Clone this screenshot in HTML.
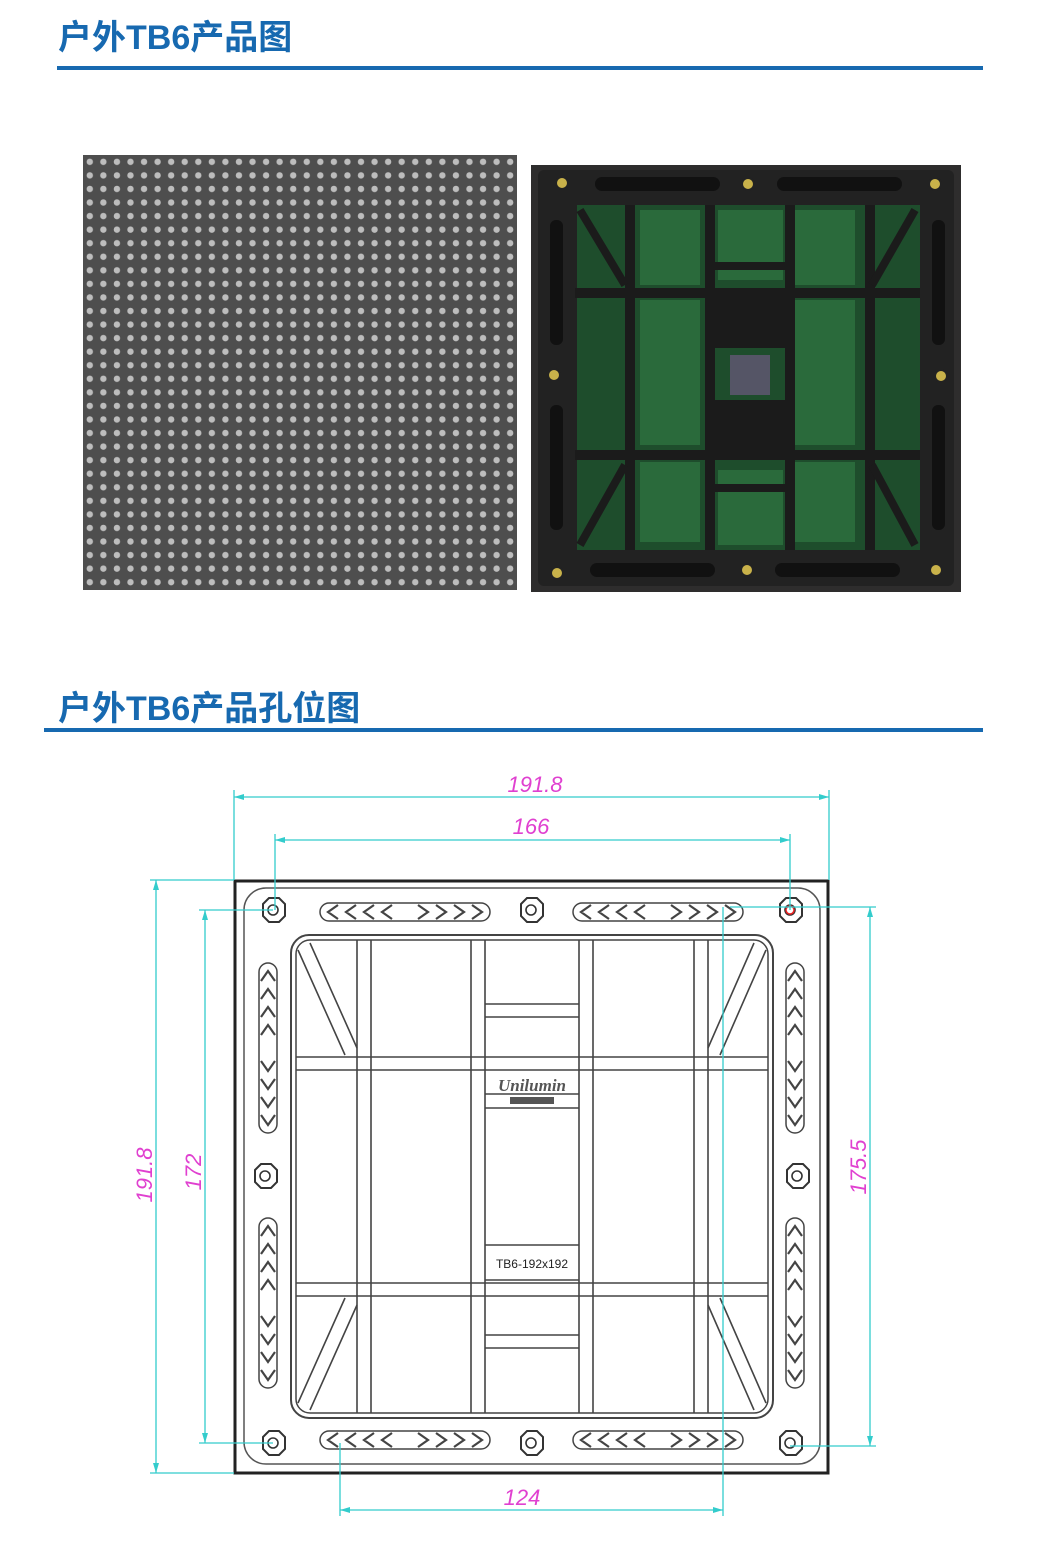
<!DOCTYPE html>
<html><head><meta charset="utf-8"><style>
html,body{margin:0;padding:0;background:#fff;width:1058px;height:1544px;overflow:hidden}
.t{position:absolute;left:58px;font-family:"Liberation Sans","Noto Sans CJK SC",sans-serif;font-weight:bold;color:#1769b0;font-size:34px;letter-spacing:0px}
</style></head><body>
<div class="t" style="top:10px">户外TB6产品图</div>
<div class="t" style="top:681px">户外TB6产品孔位图</div>
<svg width="1058" height="1544" style="position:absolute;left:0;top:0" xmlns="http://www.w3.org/2000/svg">
<defs>
<pattern id="led" x="83" y="155" width="13.56" height="13.56" patternUnits="userSpaceOnUse">
<rect width="13.56" height="13.56" fill="#4e4e4e"/>
<circle cx="6.8" cy="6.8" r="3.2" fill="#bdbdbd"/>
</pattern>
<g id="hole"><polygon points="-10,-6 -4,-12 6,-12 12,-6 12,6 6,12 -4,12 -10,6" fill="#fff" stroke="#333" stroke-width="2"/><circle r="5" fill="none" stroke="#333" stroke-width="1.6"/></g>
<g id="chevH" fill="none" stroke="#444" stroke-width="2.2">
<rect x="0" y="-9" width="170" height="18" rx="9" stroke-width="1.5"/>
<path d="M18,-7 l-10,7 l10,7 M36,-7 l-10,7 l10,7 M54,-7 l-10,7 l10,7 M72,-7 l-10,7 l10,7 M98,-7 l10,7 l-10,7 M116,-7 l10,7 l-10,7 M134,-7 l10,7 l-10,7 M152,-7 l10,7 l-10,7"/>
</g>
<g id="chevV" fill="none" stroke="#444" stroke-width="2.2">
<rect x="-9" y="0" width="18" height="170" rx="9" stroke-width="1.5"/>
<path d="M-7,18 l7,-10 l7,10 M-7,36 l7,-10 l7,10 M-7,54 l7,-10 l7,10 M-7,72 l7,-10 l7,10 M-7,98 l7,10 l7,-10 M-7,116 l7,10 l7,-10 M-7,134 l7,10 l7,-10 M-7,152 l7,10 l7,-10"/>
</g>
</defs>
<rect x="57" y="66" width="926" height="4" fill="#1769b0"/>
<rect x="44" y="728" width="939" height="4" fill="#1769b0"/>
<rect x="83" y="155" width="434" height="435" fill="url(#led)"/>
<rect x="531" y="165" width="430" height="427" fill="#2e2d2d"/>
<rect x="538" y="170" width="416" height="416" fill="#222" rx="6"/>
<rect x="577" y="205" width="343" height="345" fill="#1e4d2c"/>
<rect x="640" y="210" width="60" height="75" fill="#2a6a3b"/>
<rect x="795" y="210" width="60" height="75" fill="#2a6a3b"/>
<rect x="640" y="300" width="60" height="145" fill="#2a6a3b"/>
<rect x="795" y="300" width="60" height="145" fill="#2a6a3b"/>
<rect x="640" y="462" width="60" height="80" fill="#2a6a3b"/>
<rect x="795" y="462" width="60" height="80" fill="#2a6a3b"/>
<rect x="718" y="470" width="65" height="75" fill="#2a6a3b"/>
<rect x="718" y="210" width="65" height="70" fill="#2a6a3b"/>
<g fill="#1b1b1b">
<rect x="575" y="288" width="345" height="10"/><rect x="575" y="450" width="345" height="10"/>
<rect x="625" y="205" width="10" height="345"/><rect x="705" y="205" width="10" height="345"/><rect x="785" y="205" width="10" height="345"/><rect x="865" y="205" width="10" height="345"/>
<rect x="713" y="298" width="72" height="50"/><rect x="713" y="400" width="72" height="50"/>
<rect x="713" y="262" width="72" height="8"/><rect x="713" y="484" width="72" height="8"/>
</g>
<rect x="730" y="355" width="40" height="40" fill="#556"/>
<g stroke="#1b1b1b" stroke-width="8"><line x1="580" y1="210" x2="625" y2="285"/><line x1="915" y1="210" x2="872" y2="285"/><line x1="580" y1="545" x2="625" y2="465"/><line x1="915" y1="545" x2="872" y2="465"/></g>
<g fill="#c9b24a" stroke="#222" stroke-width="2"><circle cx="562" cy="183" r="6"/><circle cx="748" cy="184" r="6"/><circle cx="935" cy="184" r="6"/><circle cx="554" cy="375" r="6"/><circle cx="941" cy="376" r="6"/><circle cx="557" cy="573" r="6"/><circle cx="747" cy="570" r="6"/><circle cx="936" cy="570" r="6"/></g>
<g fill="#111"><rect x="595" y="177" width="125" height="14" rx="7"/><rect x="777" y="177" width="125" height="14" rx="7"/><rect x="590" y="563" width="125" height="14" rx="7"/><rect x="775" y="563" width="125" height="14" rx="7"/><rect x="550" y="220" width="13" height="125" rx="6"/><rect x="550" y="405" width="13" height="125" rx="6"/><rect x="932" y="220" width="13" height="125" rx="6"/><rect x="932" y="405" width="13" height="125" rx="6"/></g>

<rect x="235" y="881" width="593" height="592" fill="none" stroke="#222" stroke-width="3"/>
<rect x="244" y="888" width="576" height="576" rx="22" fill="none" stroke="#555" stroke-width="1.5"/>
<rect x="291" y="935" width="482" height="483" rx="18" fill="none" stroke="#444" stroke-width="2"/>
<rect x="296" y="940" width="472" height="473" rx="14" fill="none" stroke="#444" stroke-width="1.5"/>
<g fill="none" stroke="#444" stroke-width="1.6">
<path d="M357,940V1413 M371,940V1413 M471,940V1413 M485,940V1413 M579,940V1413 M593,940V1413 M694,940V1413 M708,940V1413"/>
<path d="M296,1057H768 M296,1070H768 M296,1283H768 M296,1296H768"/>
<path d="M485,1004H579 M485,1017H579 M485,1335H579 M485,1348H579"/>
<path d="M485,1094H579 M485,1108H579 M485,1245H579 M485,1280H579"/>
<path d="M298,950L345,1055 M310,943L357,1048 M766,950L720,1055 M754,943L708,1048 M298,1403L345,1298 M310,1410L357,1305 M766,1403L720,1298 M754,1410L708,1305"/>
</g>
<text x="532" y="1091" font-family="Liberation Serif,serif" font-style="italic" font-weight="bold" font-size="17" text-anchor="middle" fill="#555">Unilumin</text>
<rect x="510" y="1097" width="44" height="7" fill="#555"/>
<text x="532" y="1268" font-family="Liberation Sans,sans-serif" font-size="12" text-anchor="middle" fill="#222">TB6-192x192</text>
<use href="#hole" x="273" y="910"/><use href="#hole" x="531" y="910"/><use href="#hole" x="790" y="910"/>
<use href="#hole" x="273" y="1443"/><use href="#hole" x="531" y="1443"/><use href="#hole" x="790" y="1443"/>
<use href="#hole" x="265" y="1176"/><use href="#hole" x="797" y="1176"/>
<circle cx="790" cy="910" r="4" fill="none" stroke="#e22" stroke-width="1.5"/>
<use href="#chevH" x="320" y="912"/><use href="#chevH" x="573" y="912"/>
<use href="#chevH" x="320" y="1440"/><use href="#chevH" x="573" y="1440"/>
<use href="#chevV" x="268" y="963"/><use href="#chevV" x="268" y="1218"/>
<use href="#chevV" x="795" y="963"/><use href="#chevV" x="795" y="1218"/>
<g stroke="#33cccc" stroke-width="1.3" fill="none">
<path d="M234,797H829 M234,790V880 M829,790V880"/>
<path d="M275,840H790 M275,834V910 M790,834V910"/>
<path d="M156,880V1473 M150,880H234 M150,1473H234"/>
<path d="M205,910V1443 M199,910H273 M199,1443H273"/>
<path d="M870,907V1446 M730,907H876 M790,1446H876"/>
<path d="M340,1510H723 M340,1443V1516 M723,907V1516"/>
</g>
<g fill="#33cccc">
<path d="M234,797l10,-3v6z M829,797l-10,-3v6z M275,840l10,-3v6z M790,840l-10,-3v6z"/>
<path d="M156,880l-3,10h6z M156,1473l-3,-10h6z M205,910l-3,10h6z M205,1443l-3,-10h6z M870,907l-3,10h6z M870,1446l-3,-10h6z"/>
<path d="M340,1510l10,-3v6z M723,1510l-10,-3v6z"/>
</g>
<g fill="#e040d0" font-family="Liberation Sans,sans-serif" font-style="italic" font-size="22" text-anchor="middle">
<text x="535" y="792">191.8</text>
<text x="531" y="834">166</text>
<text x="522" y="1505">124</text>
<text transform="translate(152,1175) rotate(-90)">191.8</text>
<text transform="translate(201,1172) rotate(-90)">172</text>
<text transform="translate(866,1167) rotate(-90)">175.5</text>
</g>
</svg>
</body></html>
